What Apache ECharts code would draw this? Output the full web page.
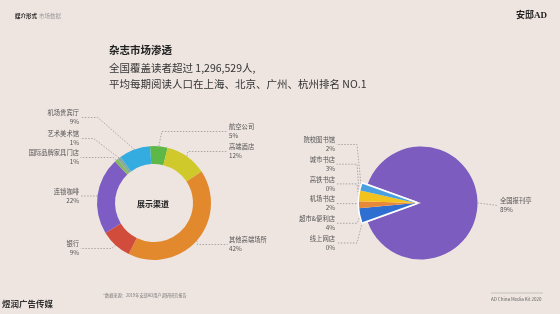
<!DOCTYPE html>
<html><head><meta charset="utf-8">
<script src="https://cdn.jsdelivr.net/npm/echarts@6/dist/echarts.min.js"></script>
<style>html,body{margin:0;padding:0;background:#eee5e1}#c{width:560px;height:314px}</style>
</head><body><div id="c"></div>
<script>
// ---- data ----
const displayNames = ['航空公司','高端酒店','其他高端场所','银行','连锁咖啡','国际品牌家具门店','艺术美术馆','机场贵宾厅'];
const displayValues = [5,12,42,9,22,1,1,9];

const retailNames = ['线上网店','超市&便利店','机场书店','高铁书店','城市书店','院校图书馆','全国报刊亭'];
const retailValues = [0,4,2,0,3,2,89];

// ---- styles & label layout (not data) ----
const displayColors = ['#5db847','#d0c92b','#e2892e','#d24c3c','#7d5dc3','#84bb5f','#86a9a4','#35ace0'];
const retailColors = ['#2f6fd2','#2f6fd2','#e8893a','#e8a060','#f4c21c','#4a9fe0','#7c5cbf'];
const displayLabelRows = [131.5, 151.5, 244.5, 248.5, 196, 157.5, 138.5, 117.5];
const displayBend = [0.2, 0.2, 0.2, 1.15, 1.15, 1.15, 1.3, 1.15];
const LEFT_EDGE = 79, RIGHT_EDGE = 229;
const RETAIL_COL_X = 335, RETAIL_BRACKET_X = 357, RETAIL_ROW0 = 144.5, RETAIL_ROW_STEP = 19.7;

const FONT = '"Noto Sans CJK SC", "Noto Sans", sans-serif';
const labelStyle = {color:'#555', fontSize:6.3, lineHeight:9, fontFamily:FONT};
const lineStyle = {color:'#8c8c8c', width:0.7, type:[1.5,1.5]};

const chart = echarts.init(document.getElementById('c'), null, {renderer:'canvas'});

const mainIdx = retailValues.length - 1;
const smallSum = retailValues.slice(0, mainIdx).reduce((a,b)=>a+b,0);
const smallCount = mainIdx;

function displayLayout(p){
  const i = p.dataIndex;
  if (!p.labelLinePoints) return {};
  const A = p.labelLinePoints[0];
  const yc = displayLabelRows[i];
  const left = A[0] < 154;
  const dy = Math.abs(A[1]-yc);
  const bx = left ? A[0] - dy*displayBend[i] : A[0] + dy*displayBend[i];
  const ex = left ? LEFT_EDGE + 1.5 : RIGHT_EDGE - 1.5;
  return {
    x: left ? LEFT_EDGE : RIGHT_EDGE, y: yc,
    align: left ? 'right' : 'left', verticalAlign:'middle',
    labelLinePoints: [A, [bx, yc], [ex, yc]]
  };
}
function wedgeLayout(p){
  const i = p.dataIndex;
  if (i === mainIdx) return {};
  const row = smallCount - 1 - i;
  const yc = RETAIL_ROW0 + row*RETAIL_ROW_STEP;
  const A = (p.labelLinePoints && p.labelLinePoints[0]) ? p.labelLinePoints[0] : [RETAIL_BRACKET_X + 2, 203];
  return {
    x: RETAIL_COL_X, y: yc, align:'right', verticalAlign:'middle',
    labelLinePoints: [A, [RETAIL_BRACKET_X, yc], [RETAIL_COL_X + 1.5, yc]]
  };
}
function mainLayout(p){
  if (p.dataIndex !== mainIdx || !p.labelLinePoints) return {};
  const A = p.labelLinePoints[0];
  return {
    x: 500, y: A[1]+2.5, align:'left', verticalAlign:'middle',
    labelLinePoints: [A, [498, A[1]+2.5]]
  };
}

const option = {
  backgroundColor: '#eee5e1',
  animation: false,
  graphic: [
    {type:'text', left:15, top:13, style:{text:'媒介形式', fill:'#222', font:'bold 5.5px '+FONT}},
    {type:'text', left:39, top:13, style:{text:'市场数据', fill:'#999', font:'5.5px '+FONT}},
    {type:'text', right:13, top:11, style:{text:'安邸AD', fill:'#222', font:'bold 9px "Liberation Serif", "Noto Sans CJK SC", serif'}},
    {type:'text', left:109, top:45, style:{text:'杂志市场渗透', fill:'#222', font:'bold 10.5px '+FONT}},
    {type:'text', left:109, top:63, style:{text:'全国覆盖读者超过 1,296,529人,', fill:'#333', font:'10.5px '+FONT}},
    {type:'text', left:109, top:79, style:{text:'平均每期阅读人口在上海、北京、广州、杭州排名 NO.1', fill:'#333', font:'10.5px '+FONT}},
    {type:'text', x:153, y:204, style:{text:'展示渠道', fill:'#222', font:'bold 8px '+FONT, align:'center', verticalAlign:'middle'}},
    {type:'text', x:442, y:204.5, style:{text:'付费零售\n渠道', fill:'#fff', font:'8px '+FONT, lineHeight:11.5, align:'center', verticalAlign:'middle'}},
    {type:'text', left:103, top:293, style:{text:'*数据来源：2019年安邸AD用户调研研究报告', fill:'#777', font:'4.2px '+FONT}},
    {type:'text', left:2, top:300, style:{text:'煜润广告传媒', fill:'#333', font:'bold 8.5px '+FONT}},
    {type:'line', shape:{x1:491, y1:293, x2:543, y2:293}, style:{stroke:'#aaa', lineWidth:0.6}},
    {type:'text', left:491, top:297, style:{text:'AD China Media Kit 2020', fill:'#666', font:'4.5px '+FONT}}
  ],
  series: [
    {
      type:'pie', name:'展示渠道', center:[154,203], radius:[39,57], startAngle:94,
      clockwise:true, silent:true,
      data: displayNames.map((n,i)=>({name:n, value:displayValues[i], itemStyle:{color:displayColors[i]}})),
      label:{show:true, formatter:'{b}\n{c}%', ...labelStyle},
      labelLine:{show:true, length:10, length2:10, lineStyle:lineStyle},
      labelLayout: displayLayout
    },
    {
      type:'pie', name:'main', center:[421,203], radius:[0,56.5], startAngle:199.8, clockwise:true, silent:true,
      data: retailNames.map((n,i)=>({name:n, value:retailValues[i],
        itemStyle:{color: i===mainIdx ? retailColors[i] : 'rgba(0,0,0,0)'},
        label:{show: i===mainIdx}, labelLine:{show:i===mainIdx}})),
      label:{formatter:'{b}\n{c}%', ...labelStyle},
      labelLine:{length:6, length2:10, lineStyle:lineStyle},
      labelLayout: mainLayout
    },
    {
      type:'pie', name:'outline', center:[416,203], radius:[0,57], startAngle:199.8, clockwise:true, silent:true,
      data:[{value:smallSum, itemStyle:{color:'#fff', borderColor:'#fff', borderWidth:3}},
            {value:retailValues[mainIdx], itemStyle:{color:'rgba(0,0,0,0)'}}],
      label:{show:false}, labelLine:{show:false}
    },
    {
      type:'pie', name:'wedge', center:[416,203], radius:[0,57], startAngle:199.8, clockwise:true, silent:true,
      data: retailNames.map((n,i)=>({name:n, value:retailValues[i],
        itemStyle:{color: i===mainIdx ? 'rgba(0,0,0,0)' : retailColors[i]},
        label:{show: i!==mainIdx}, labelLine:{show:i!==mainIdx}})),
      label:{formatter:'{b}\n{c}%', ...labelStyle},
      labelLine:{length:4, length2:6, lineStyle:lineStyle},
      labelLayout: wedgeLayout
    }
  ]
};
chart.setOption(option);
</script></body></html>
